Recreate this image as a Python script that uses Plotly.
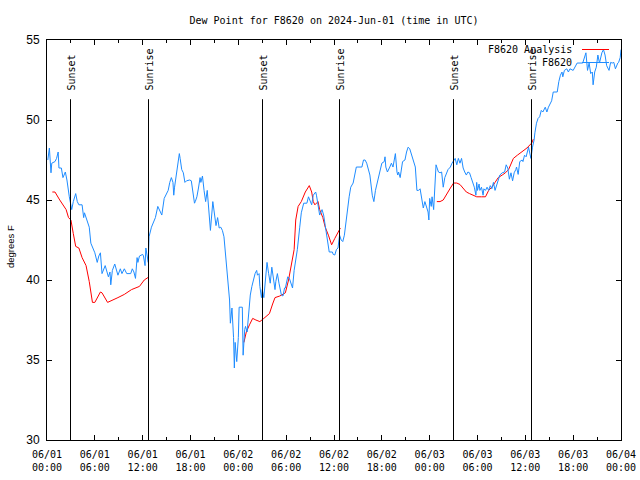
import pandas as pd
import plotly.graph_objects as go

BASE = pd.Timestamp("2024-06-01 00:00")

# Observations (F8620): hours since 2024-06-01 00:00 UTC, dew point (F)
obs_hours = [0.1, 0.3, 0.5, 0.6, 1.0, 1.2, 1.4, 1.5, 1.8, 2.0, 2.3, 2.5, 2.8, 3.1, 3.3, 3.6, 3.8, 4.0, 4.4, 4.6,
             4.7, 4.9, 5.3, 5.5, 5.8, 6.0, 6.3, 6.5, 6.7, 6.9, 7.3, 7.5, 7.7, 7.9, 8.0, 8.2, 8.5, 8.9, 9.2, 9.4,
             9.7, 10.0, 10.5, 10.7, 10.9, 11.1, 11.3, 11.4, 11.6, 12.0, 12.1, 12.3, 12.4, 12.7, 12.8, 13.1, 13.6, 13.9,
             14.2, 14.4, 14.7, 15.0, 15.2, 15.4, 15.6, 15.8, 15.9, 16.0, 16.3, 16.4, 16.6, 16.7, 16.9, 17.1, 17.3, 17.5,
             17.9, 18.1, 18.3, 18.5, 18.6, 18.8, 19.0, 19.2, 19.3, 19.5, 19.7, 19.9, 20.1, 20.3, 20.5, 20.8, 21.0, 21.2,
             21.4, 21.6, 21.8, 22.0, 22.2, 22.4, 22.7, 22.9, 23.0, 23.2, 23.4, 23.5, 23.6, 23.8, 24.0, 24.1, 24.5, 24.6,
             24.8, 24.9, 25.1, 25.3, 25.5, 25.7, 25.9, 26.1, 26.3, 26.4, 26.6, 26.7, 26.9, 27.0, 27.2, 27.4, 27.6, 27.8,
             28.0, 28.2, 28.4, 28.6, 28.7, 28.9, 29.1, 29.4, 29.6, 29.8, 29.9, 30.2, 30.4, 30.6, 30.8, 31.0, 31.4, 31.7,
             31.9, 32.2, 32.6, 32.8, 33.2, 33.4, 33.7, 33.8, 34.0, 34.2, 34.5, 34.7, 34.9, 35.1, 35.2, 35.4, 35.8, 35.9,
             36.1, 36.3, 36.5, 36.7, 36.9, 37.1, 37.3, 37.5, 37.7, 37.9, 38.1, 38.4, 38.8, 39.5, 39.7, 39.9, 40.1, 40.3,
             40.5, 40.8, 41.0, 41.2, 41.4, 41.8, 42.0, 42.3, 42.4, 42.5, 42.7, 43.0, 43.2, 43.4, 43.7, 43.9, 44.0, 44.1,
             44.3, 44.6, 44.9, 45.1, 45.3, 45.5, 45.7, 45.9, 46.2, 46.4, 46.6, 46.8, 47.0, 47.2, 47.4, 47.6, 47.8, 47.9,
             48.0, 48.2, 48.3, 48.5, 48.6, 48.8, 49.1, 49.3, 49.5, 49.7, 49.9, 50.1, 50.3, 50.6, 50.8, 51.2, 51.4, 51.6,
             51.8, 52.0, 52.2, 52.4, 52.6, 52.8, 53.0, 53.2, 53.4, 53.6, 53.8, 53.9, 54.0, 54.2, 54.3, 54.5, 54.7, 54.8,
             55.0, 55.2, 55.4, 55.6, 55.8, 56.0, 56.2, 56.4, 56.6, 56.8, 57.1, 57.4, 57.6, 57.8, 58.0, 58.2, 58.4, 58.6,
             58.8, 58.9, 59.1, 59.3, 59.6, 59.7, 59.9, 60.1, 60.4, 60.5, 60.7, 60.9, 61.1, 61.2, 61.4, 61.6, 61.8, 62.0,
             62.2, 62.5, 62.7, 62.9, 63.1, 63.3, 63.5, 64.0, 64.2, 64.4, 64.6, 64.7, 64.9, 65.2, 65.4, 65.6, 66.0, 66.5,
             67.2, 67.6, 67.8, 68.0, 68.2, 68.4, 68.5, 68.7, 68.9, 69.1, 69.3, 69.6, 69.8, 70.0, 70.2, 70.5, 70.7, 70.9,
             71.1, 71.3, 71.6, 71.7, 71.9, 72.0]
obs_dewpt = [47.5, 48.25, 46.7, 47.3, 47.4, 47.6, 48.0, 47.0, 47.0, 46.4, 46.75, 46.25, 45.2, 44.4, 44.9, 45.4, 44.9, 44.7, 44.7, 43.9,
             44.2, 43.9, 43.3, 42.3, 42.0, 41.7, 41.1, 41.5, 41.7, 40.4, 40.9, 40.6, 40.2, 40.5, 39.7, 40.6, 41.0, 40.3, 40.7, 40.4,
             40.7, 40.4, 40.4, 40.7, 40.5, 40.1, 41.4, 41.1, 41.5, 41.6, 41.5, 40.9, 42.0, 41.1, 42.7, 43.3, 43.9, 44.6,
             44.3, 44.06, 45.1, 45.4, 45.6, 46.1, 46.4, 46.1, 45.3, 45.8, 46.75, 47.2, 47.9, 47.6, 46.9, 46.7, 46.1, 46.2,
             46.25, 46.2, 45.4, 44.8, 44.9, 45.2, 45.75, 46.4, 46.1, 46.5, 45.6, 44.9, 45.6, 44.5, 43.1, 44.9, 44.25, 43.4,
             43.9, 43.25, 43.3, 43.1, 42.7, 41.6, 40.0, 38.75, 37.3, 38.25, 36.4, 34.5, 36.1, 34.9, 36.4, 38.3, 38.3, 35.3,
             36.9, 37.1, 36.75, 37.8, 39.06, 39.6, 40.0, 40.4, 40.6, 40.3, 40.4, 39.6, 38.9, 39.4, 38.9, 40.0, 41.1, 40.4,
             39.8, 40.8, 40.0, 39.4, 39.9, 40.4, 39.8, 39.06, 39.0, 39.5, 39.5, 40.2, 40.1, 39.8, 39.5, 40.6, 41.9, 43.3,
             44.2, 44.8, 44.8, 45.2, 44.7, 45.3, 45.5, 45.3, 44.7, 44.06, 44.4, 44.06, 43.4, 42.8, 42.3, 41.75, 41.75, 41.6,
             41.56, 41.9, 42.0, 42.8, 42.5, 42.4, 42.8, 43.75, 44.6, 45.2, 45.8, 46.06, 47.06, 47.06, 47.5, 47.5, 47.3, 47.0,
             46.56, 45.3, 44.9, 45.6, 46.06, 47.06, 47.3, 47.4, 47.7, 47.06, 46.75, 47.06, 47.3, 47.06, 47.9, 46.75, 46.56, 46.75,
             46.4, 47.4, 47.5, 48.0, 48.3, 48.2, 47.9, 47.5, 47.06, 45.6, 45.6, 45.7, 45.1, 44.5, 44.9, 44.6, 44.25, 43.75,
             45.1, 44.6, 45.2, 44.4, 45.5, 47.2, 46.75, 46.7, 46.75, 45.8, 46.4, 46.7, 46.9, 47.06, 47.3, 47.6, 47.2, 47.6,
             47.3, 47.6, 47.0, 46.75, 46.56, 46.75, 46.7, 46.4, 46.1, 45.8, 45.3, 46.1, 45.6, 46.0, 45.6, 45.8, 45.3, 45.7,
             45.6, 45.8, 45.6, 45.9, 45.7, 46.1, 45.6, 45.9, 46.3, 46.56, 46.7, 46.75, 47.2, 47.0, 46.3, 46.7, 46.2, 46.7,
             46.9, 47.06, 46.6, 47.4, 47.5, 47.4, 47.8, 47.7, 48.3, 48.1, 47.6, 48.3, 48.75, 49.2, 49.8, 50.1, 50.2, 50.6,
             50.5, 50.8, 50.5, 50.8, 51.06, 51.2, 51.75, 51.75, 52.4, 52.8, 53.0, 52.7, 53.1, 53.2, 53.0, 53.2, 53.1, 53.56,
             53.56, 54.2, 53.1, 53.56, 52.9, 53.0, 52.2, 53.0, 53.3, 54.06, 53.56, 54.2, 54.4, 54.06, 53.4, 53.1, 53.6, 53.56,
             53.6, 53.2, 53.56, 53.6, 53.9, 54.4]

# Analysis (F8620 Analysis): three overnight segments, None marks the gaps
ana_hours = [0.67, 1.0, 1.6, 1.9, 2.4, 2.7, 3.0, 3.3, 3.6, 4.0, 4.4, 4.9, 5.3, 5.7, 6.0, 6.7, 6.9, 7.6, 8.1, 8.9,
             9.7, 10.6, 11.6, 12.2, 12.8, 18.0,
             24.7, 25.0, 25.4, 25.8, 26.2, 26.7, 27.2, 27.9, 28.3, 28.6, 29.2, 29.9, 30.3, 30.7, 31.0, 31.2, 31.5, 31.9,
             32.4, 32.9, 33.2, 33.4, 33.6, 34.0, 34.2, 34.6, 34.9, 35.3, 35.7, 36.1, 36.5, 36.8, 42.0,
             48.9, 49.3, 49.7, 50.1, 50.6, 51.0, 51.4, 51.8, 52.2, 52.6, 53.0, 53.5, 53.9, 54.5, 55.0, 55.4, 55.8, 56.2,
             56.6, 57.1, 57.5, 57.9, 58.2, 58.5, 59.0, 59.6, 60.2, 60.8, 61.0]
ana_dewpt = [45.5, 45.5, 45.0, 44.8, 44.4, 43.9, 43.75, 42.9, 42.1, 42.0, 41.4, 40.9, 39.9, 38.6, 38.6, 39.25, 39.2, 38.6, 38.7, 38.9,
             39.1, 39.4, 39.6, 40.0, 40.2, None,
             36.1, 36.75, 37.2, 37.6, 37.5, 37.4, 37.6, 37.9, 38.5, 38.9, 39.0, 39.2, 40.0, 41.06, 41.9, 43.75, 44.6, 44.9,
             45.5, 45.9, 45.5, 44.9, 44.7, 44.9, 44.4, 43.9, 43.3, 42.8, 42.2, 42.6, 43.0, 43.25, None,
             44.9, 44.9, 45.0, 45.3, 45.75, 46.06, 46.06, 45.97, 45.75, 45.5, 45.4, 45.3, 45.2, 45.2, 45.2, 45.6, 45.8, 46.1,
             46.4, 46.56, 46.7, 46.9, 47.2, 47.6, 47.8, 48.0, 48.25, 48.56, 48.8]

# Sun events (hours since start)
sun_labels = ["Sunset", "Sunrise", "Sunset", "Sunrise", "Sunset", "Sunrise"]
sun_hours = [2.948, 12.732, 27.031, 36.690, 50.990, 60.774]

# Axis ticks
x_tick_hours = [0, 6, 12, 18, 24, 30, 36, 42, 48, 54, 60, 66, 72]
x_tick_text = ["06/01<br>00:00", "06/01<br>06:00", "06/01<br>12:00", "06/01<br>18:00",
               "06/02<br>00:00", "06/02<br>06:00", "06/02<br>12:00", "06/02<br>18:00",
               "06/03<br>00:00", "06/03<br>06:00", "06/03<br>12:00", "06/03<br>18:00",
               "06/04<br>00:00"]
x_minor_hours = [3, 9, 15, 21, 27, 33, 39, 45, 51, 57, 63, 69]
y_ticks = [30, 35, 40, 45, 50, 55]


def to_time(hours):
    return [BASE + pd.Timedelta(hours=h) for h in hours]


MONO = "DejaVu Sans Mono"
SANS = "Liberation Sans"
BLUE = "#1E8CFF"
RED = "#FF0000"

fig = go.Figure()
fig.add_trace(go.Scatter(x=to_time(ana_hours), y=ana_dewpt, mode="lines",
                         line=dict(color=RED, width=1), connectgaps=False,
                         name="F8620 Analysis", showlegend=False))
fig.add_trace(go.Scatter(x=to_time(obs_hours), y=obs_dewpt, mode="lines",
                         line=dict(color=BLUE, width=1), name="F8620", showlegend=False))

LINE_TOP = 51.3
for lab, h in zip(sun_labels, sun_hours):
    t = BASE + pd.Timedelta(hours=h)
    fig.add_shape(type="line", xref="x", yref="y", x0=t, x1=t, y0=30, y1=LINE_TOP,
                  line=dict(color="black", width=1))
    fig.add_annotation(x=t, xref="x", y=(440 - 93) / 400, yref="paper", text=lab,
                       textangle=-90, showarrow=False, xanchor="center", yanchor="bottom",
                       xshift=1, font=dict(family=MONO, size=10, color="black"))

# Legend (drawn manually to match gnuplot key)
for i, (name, col) in enumerate([("F8620 Analysis", RED), ("F8620", BLUE)]):
    yp = (440 - (49.5 + 13 * i)) / 400
    fig.add_annotation(x=(574 - 47) / 574, xref="paper", y=yp, yref="paper", text=name,
                       showarrow=False, xanchor="right", yanchor="middle",
                       font=dict(family=MONO, size=10, color="black"))
    fig.add_shape(type="line", xref="paper", yref="paper",
                  x0=(582 - 47) / 574, x1=(609 - 47) / 574, y0=yp, y1=yp,
                  line=dict(color=col, width=1))

fig.add_annotation(x=(10 - 47) / 574, xref="paper", y=(440 - 247) / 400, yref="paper",
                   text="degrees F", textangle=-90, showarrow=False,
                   xanchor="center", yanchor="middle",
                   font=dict(family=SANS, size=9.5, color="black"))

fig.update_layout(
    width=640, height=480,
    margin=dict(l=47, r=19, t=40, b=40, autoexpand=False),
    paper_bgcolor="white", plot_bgcolor="white",
    title=dict(text="Dew Point for F8620 on 2024-Jun-01 (time in UTC)",
               x=334 / 640, xanchor="center", y=1 - 20 / 480, yanchor="middle",
               font=dict(family=MONO, size=10, color="black")),
    showlegend=False,
    xaxis=dict(range=[BASE, BASE + pd.Timedelta(hours=72)], automargin=False,
               tickvals=to_time(x_tick_hours), ticktext=x_tick_text,
               ticks="inside", ticklen=5, tickcolor="black", ticklabelstandoff=5,
               showline=True, linecolor="black", linewidth=1, mirror="ticks",
               showgrid=False, zeroline=False,
               tickfont=dict(family=MONO, size=10, color="black"),
               minor=dict(tickvals=to_time(x_minor_hours),
                          ticks="inside", ticklen=3, tickcolor="black")),
    yaxis=dict(range=[30, 55], tickvals=y_ticks, automargin=False,
               ticks="inside", ticklen=5, tickcolor="black", ticklabelstandoff=4,
               showline=True, linecolor="black", linewidth=1, mirror="ticks",
               showgrid=False, zeroline=False,
               tickfont=dict(family=SANS, size=12, color="black")),
)

fig.write_html("out.html", config={"displayModeBar": False},
               post_script="document.body.style.margin='0px';document.body.style.overflow='hidden';")
